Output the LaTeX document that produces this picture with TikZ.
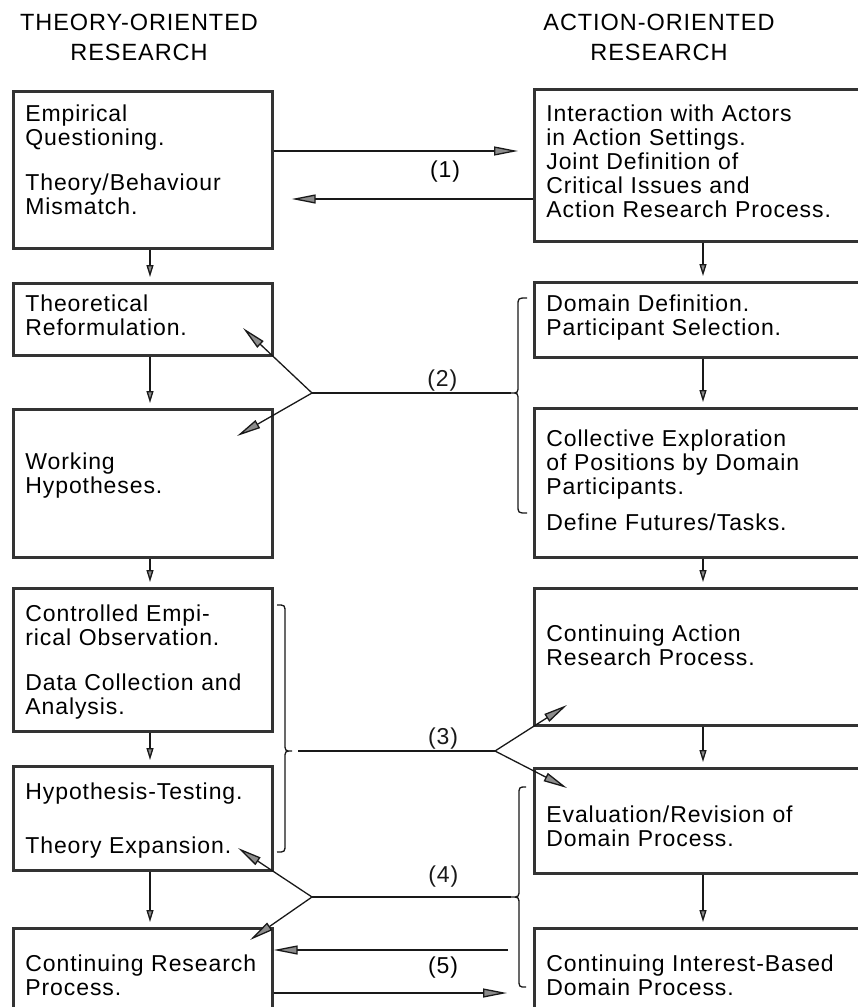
\documentclass[tikz,border=0pt]{standalone}
\usepackage{fontspec}
\setmainfont[LetterSpace=4]{Liberation Sans}
\usepackage{tikz}
\usetikzlibrary{arrows.meta,calc,positioning}

\newcommand{\boxfont}{\fontsize{23}{24}\selectfont}
\newcommand{\headfont}{\fontsize{23.5}{30}\selectfont}

\begin{document}
\begin{tikzpicture}[x=1pt,y=-1pt,
  box/.style={draw=black!80,line width=2.7pt,anchor=north west,align=left,inner xsep=12pt,inner ysep=0pt,font=\boxfont},
  lbox/.style={box,text width=235pt},
  rbox/.style={box,text width=322pt},
  tpos/.style={text height=17pt,text depth=#1},
  link/.style={black!90,line width=1.3pt},
  bigtip/.style={link,-{Triangle[length=24pt,width=9pt,fill=black!45]}},
  smalltip/.style={link,-{Triangle[length=12pt,width=7pt,fill=black!45]}},
  tag/.style={font=\boxfont,inner sep=1pt}]
\useasboundingbox (0,0) rectangle (858,1007);
\clip (0,0) rectangle (858,1007);
% column headings
\node[font=\headfont,align=center] (thead) at (139,37) {THEORY-ORIENTED\\RESEARCH};
\node[font=\headfont,align=center] (ahead) at (659,37) {ACTION-ORIENTED\\RESEARCH};
% theory side
\node[lbox,minimum height=157pt,tpos=114pt] (emp) at (12,90) {Empirical\\Questioning.\\[21pt]Theory/Behaviour\\Mismatch.};
\node[lbox,minimum height=72pt,tpos=33pt] (theo) at (12,282) {Theoretical\\Reformulation.};
\node[lbox,minimum height=148pt,tpos=45pt] (work) at (12,408) {Working\\Hypotheses.};
\node[lbox,minimum height=143pt,tpos=94pt] (ctrl) at (12,587) {Controlled Empi-\\rical Observation.\\[21pt]Data Collection and\\Analysis.};
\node[lbox,minimum height=104pt,tpos=55pt] (hyp) at (12,765) {Hypothesis-Testing.\\[30pt]Theory Expansion.};
\node[lbox,minimum height=95pt,tpos=26pt] (cont) at (12,927) {Continuing Research\\Process.};
% action side
\node[rbox,minimum height=152pt,tpos=105pt] (inter) at (533,88) {Interaction with Actors\\in Action Settings.\\Joint Definition of\\Critical Issues and\\Action Research Process.};
\node[rbox,minimum height=75pt,tpos=34pt] (dom) at (533,281) {Domain Definition.\\Participant Selection.};
\node[rbox,minimum height=149pt,tpos=90pt] (coll) at (533,407) {Collective Exploration\\of Positions by Domain\\Participants.\\[12pt]Define Futures/Tasks.};
\node[rbox,minimum height=137pt,tpos=48pt] (cact) at (533,587) {Continuing Action\\Research Process.};
\node[rbox,minimum height=105pt,tpos=14pt] (eval) at (533,767) {Evaluation/Revision of\\Domain Process.};
\node[rbox,minimum height=95pt,tpos=26pt] (cint) at (533,927) {Continuing Interest-Based\\Domain Process.};
% steps down each column
\coordinate (lc) at (150,0);
\coordinate (rc) at (703,0);
\foreach \a/\b in {emp/theo,theo/work,work/ctrl,ctrl/hyp,hyp/cont}{
  \draw[smalltip,shorten >=5pt] (\a.south -| lc) -- (\b.north -| lc);
}
\foreach \a/\b in {inter/dom,dom/coll,coll/cact,cact/eval,eval/cint}{
  \draw[smalltip,shorten >=5pt] (\a.south -| rc) -- (\b.north -| rc);
}
% braces
\foreach \tx/\bx/\hx/\ya/\yt/\yb in {511/518/527/298/393/513, 511/519/526/787/897/987, 292/285/277/605/751/852}{
  \draw[link] (\hx,\ya) .. controls (\bx,\ya) and (\bx,\ya) .. (\bx,\ya+8) -- (\bx,\yt-8)
    .. controls (\bx,\yt) and (\bx,\yt) .. (\tx,\yt) .. controls (\bx,\yt) and (\bx,\yt) .. (\bx,\yt+8)
    -- (\bx,\yb-8) .. controls (\bx,\yb) and (\bx,\yb) .. (\hx,\yb);
}
\coordinate (b2) at (511,393);
\coordinate (b3) at (298,751);
\coordinate (b4) at (511,897);
% (1)
\coordinate (y1a) at (0,151);
\coordinate (y1b) at (0,199);
\draw[bigtip,shorten >=15pt] (emp.east |- y1a) -- (inter.west |- y1a);
\draw[bigtip,shorten >=18pt] (inter.west |- y1b) -- (emp.east |- y1b);
\node[tag] (n1) at (445,172) {(1)};
% (2)
\coordinate (j2) at (312,393);
\coordinate (t2a) at (243,328);
\coordinate (t2b) at (237,436);
\draw[link] (b2) -- node[tag,above,pos=0.345] (n2) {(2)} (j2);
\draw[bigtip] (j2) -- (t2a);
\draw[bigtip] (j2) -- (t2b);
% (3)
\coordinate (j3) at (495,751);
\coordinate (t3a) at (567,705);
\coordinate (t3b) at (567,788);
\draw[link] (b3) -- node[tag,above,pos=0.736] (n3) {(3)} (j3);
\draw[bigtip] (j3) -- (t3a);
\draw[bigtip] (j3) -- (t3b);
% (4)
\coordinate (j4) at (312,897);
\coordinate (t4a) at (238,848);
\coordinate (t4b) at (250,940);
\draw[link] (b4) -- node[tag,above=8pt,pos=0.34] (n4) {(4)} (j4);
\draw[bigtip] (j4) -- (t4a);
\draw[bigtip] (j4) -- (t4b);
% (5)
\coordinate (f5a) at (508,950);
\coordinate (f5b) at (507,993);
\draw[bigtip] (f5a) -- (cont.east |- f5a);
\draw[bigtip] (cont.east |- f5b) -- (f5b);
\node[tag] (n5) at (443,968) {(5)};
\end{tikzpicture}
\end{document}
